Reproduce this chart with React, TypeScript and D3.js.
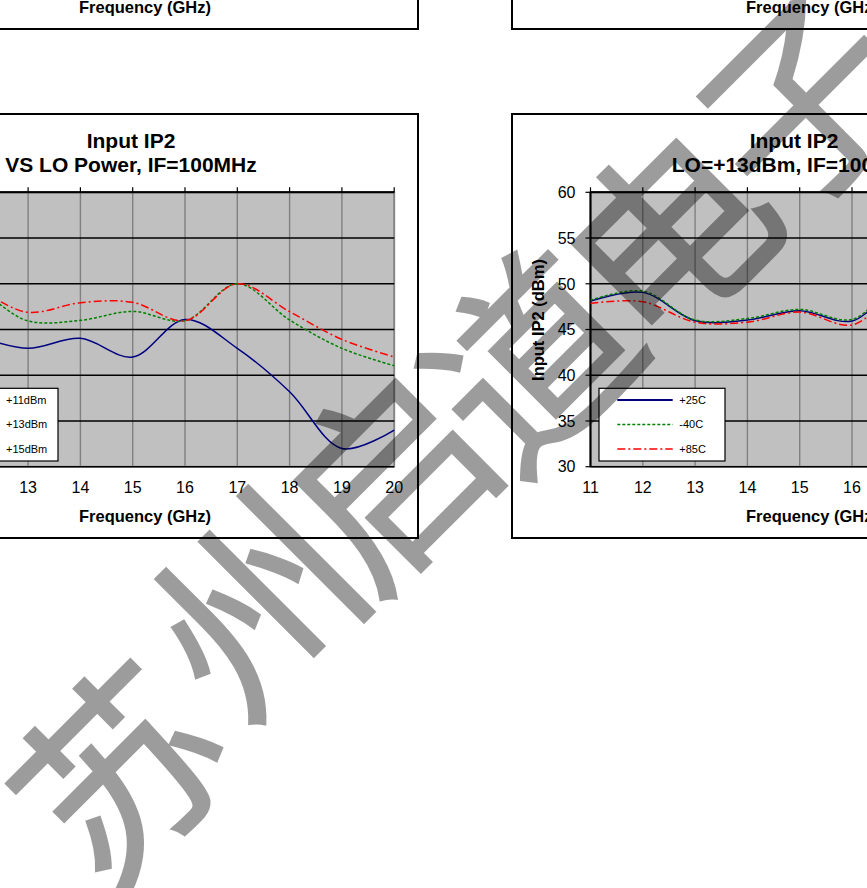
import React from 'react';
import * as d3 from 'd3';

// ---------- data ----------
const freqs = [11, 12, 13, 14, 15, 16, 17, 18, 19, 20];
const yTicks = [30, 35, 40, 45, 50, 55, 60];

// Input IP2 vs LO power (dBm)
const lo11 = [44.3, 44.1, 42.94, 44.03, 42.0, 46.1, 42.94, 38.2, 32.0, 34.0];
const lo13 = [48.1, 49.1, 45.93, 46.0, 46.98, 45.96, 50.0, 46.04, 42.94, 41.04];
const lo15 = [48.4, 49.1, 46.88, 47.93, 47.97, 45.96, 50.0, 46.95, 43.92, 42.0];
const loLabels = ['+11dBm', '+13dBm', '+15dBm'];

// Input IP2 vs temperature, LO=+13dBm
const t25 = [48.1, 49.06, 45.96, 46.04, 47.06, 45.93, 50.0, 46.0, 43.0, 41.0];
const tm40 = [48.2, 49.2, 46.04, 46.2, 47.2, 46.1, 50.3, 46.5, 43.5, 41.5];
const t85 = [47.86, 48.04, 45.8, 45.8, 46.9, 45.5, 49.2, 45.5, 42.5, 40.5];
const tempLabels = ['+25C', '-40C', '+85C'];

const watermarkChars = ['苏', '州', '启', '道', '电', '子'];

// ---------- styles ----------
const FONT = '"Liberation Sans", Arial, Helvetica, sans-serif';
const seriesStyles = [
  { color: '#000080', dash: 'none', width: 1.5 },
  { color: '#008000', dash: '3,2', width: 1.5 },
  { color: '#ff0000', dash: '8,3,2,3', width: 1.5 },
];

const BOX_W = 573;
const BOX_H = 424;

type PanelProps = {
  boxLeft: number;
  boxTop: number;
  titles?: string[];
  titleCx?: number;
  series?: number[][];
  labels?: string[];
  legendTextDx?: number;
  yTitle?: boolean;
  full?: boolean;
};

function Panel({ boxLeft, boxTop, titles = [], titleCx = 0, series = [], labels = [], legendTextDx = 88.8, yTitle = false, full = true }: PanelProps) {
  const plotL = boxLeft + 78.5;
  const plotR = plotL + 470.7;
  const plotT = boxTop + 78.3;
  const plotB = boxTop + 352.7;
  const x = d3.scaleLinear().domain([11, 20]).range([plotL, plotR]);
  const y = d3.scaleLinear().domain([30, 60]).range([plotB, plotT]);
  const line = d3
    .line<number>()
    .x((_, i) => x(freqs[i]))
    .y((d) => y(d))
    .curve(d3.curveCatmullRom.alpha(0.5));

  const legL = plotL + 8.5;
  const legT = boxTop + 274.3;
  const rows = [boxTop + 286, boxTop + 310.5, boxTop + 335];
  const textX = plotL + legendTextDx;

  return (
    <g>
      <rect x={boxLeft} y={boxTop} width={BOX_W} height={BOX_H} fill="#fff" stroke="#000" strokeWidth={2} />
      {full && (
        <g>
          <rect x={plotL} y={plotT} width={plotR - plotL} height={plotB - plotT} fill="#c0c0c0" stroke="#9a9a9a" strokeWidth={2} />
          {freqs.map((f) => (
            <line key={'v' + f} x1={x(f)} x2={x(f)} y1={plotT} y2={plotB} stroke="#808080" strokeWidth={1.4} />
          ))}
          {yTicks.map((t) => (
            <line key={'h' + t} x1={plotL} x2={plotR} y1={y(t)} y2={y(t)} stroke="#000" strokeWidth={1.4} />
          ))}
          {/* axes */}
          <line x1={plotL} x2={plotR} y1={plotT} y2={plotT} stroke="#000" strokeWidth={2} />
          <line x1={plotL} x2={plotL} y1={plotT} y2={plotB} stroke="#000" strokeWidth={2} />
          {freqs.map((f) => (
            <line key={'tx' + f} x1={x(f)} x2={x(f)} y1={plotT} y2={plotT - 5} stroke="#000" strokeWidth={1.2} />
          ))}
          {yTicks.map((t) => (
            <line key={'ty' + t} x1={plotL} x2={plotL - 5} y1={y(t)} y2={y(t)} stroke="#000" strokeWidth={1.2} />
          ))}
          {/* series */}
          {series.map((s, i) => (
            <path
              key={'s' + i}
              d={line(s) || ''}
              fill="none"
              stroke={seriesStyles[i].color}
              strokeWidth={seriesStyles[i].width}
              strokeDasharray={seriesStyles[i].dash}
            />
          ))}
          {/* legend */}
          <rect x={legL} y={legT} width={126} height={72.7} fill="#fff" stroke="#000" strokeWidth={1.2} />
          {labels.map((lab, i) => (
            <g key={'lg' + i}>
              <line
                x1={textX - 62}
                x2={textX - 6.6}
                y1={rows[i]}
                y2={rows[i]}
                stroke={seriesStyles[i].color}
                strokeWidth={i === 0 ? 2 : 1.5}
                strokeDasharray={seriesStyles[i].dash}
              />
              <text x={textX} y={rows[i]} dy="0.36em" fontSize={11} fontFamily={FONT} fill="#000">
                {lab}
              </text>
            </g>
          ))}
          {/* tick labels */}
          {freqs.map((f) => (
            <text key={'lx' + f} x={x(f)} y={plotB + 26} textAnchor="middle" fontSize={16} fontFamily={FONT} fill="#000">
              {f}
            </text>
          ))}
          {yTicks.map((t) => (
            <text key={'ly' + t} x={plotL - 15} y={y(t)} dy="0.36em" textAnchor="end" fontSize={16} fontFamily={FONT} fill="#000">
              {t}
            </text>
          ))}
          {titles.map((t, i) => (
            <text key={'tt' + i} x={titleCx} y={boxTop + 33.7 + i * 24} textAnchor="middle" fontSize={21} fontWeight="bold" fontFamily={FONT} fill="#000">
              {t}
            </text>
          ))}
          {yTitle && (
            <text
              transform={`translate(${boxLeft + 26},${boxTop + 206}) rotate(-90)`}
              textAnchor="middle"
              dy="0.36em"
              fontSize={16.5}
              fontWeight="bold"
              fontFamily={FONT}
              fill="#000"
            >
              Input IP2 (dBm)
            </text>
          )}
        </g>
      )}
      <text x={boxLeft + 300} y={boxTop + 407.7} textAnchor="middle" fontSize={16.5} fontWeight="bold" fontFamily={FONT} fill="#000">
        Frequency (GHz)
      </text>
    </g>
  );
}

export default function App() {
  const wmCx = 462;
  const wmCy = 427;
  const step = 188;
  const dir = Math.SQRT1_2;
  const nudges = [
    [-18, 6],
    [-15, -30],
    [-15, -25],
    [-5, -8],
    [0, 0],
    [0, 0],
  ];
  return (
    <svg
      width={867}
      height={888}
      viewBox="0 0 867 888"
      style={{ position: 'absolute', left: 0, top: 0, background: '#fff', overflow: 'hidden' }}
    >
      <rect x={0} y={0} width={867} height={888} fill="#fff" />
      {/* top remnant panels */}
      <Panel boxLeft={-155} boxTop={-395} full={false} />
      <Panel boxLeft={512} boxTop={-395} full={false} />
      {/* bottom panels */}
      <Panel
        boxLeft={-155}
        boxTop={114}
        titles={['Input IP2', 'VS LO Power, IF=100MHz']}
        titleCx={131}
        series={[lo11, lo13, lo15]}
        labels={loLabels}
        legendTextDx={82.5}
      />
      <Panel
        boxLeft={512}
        boxTop={114}
        titles={['Input IP2', 'LO=+13dBm, IF=100MHz']}
        titleCx={794}
        series={[t25, tm40, t85]}
        labels={tempLabels}
        yTitle
      />
      {/* watermark */}
      <g opacity={0.39}>
        {watermarkChars.map((ch, i) => {
          const k = (i - 2.5) * step;
          const cx = wmCx + k * dir + nudges[i][0];
          const cy = wmCy - k * dir + nudges[i][1];
          return (
            <text
              key={'wm' + i}
              transform={`translate(${cx},${cy}) rotate(-45)`}
              textAnchor="middle"
              dominantBaseline="central"
              fontSize={200}
              fontFamily='"Noto Sans CJK SC", sans-serif'
              fill="#000"
              stroke="#000"
              strokeWidth={2.5}
              strokeLinejoin="miter"
            >
              {ch}
            </text>
          );
        })}
      </g>
    </svg>
  );
}
